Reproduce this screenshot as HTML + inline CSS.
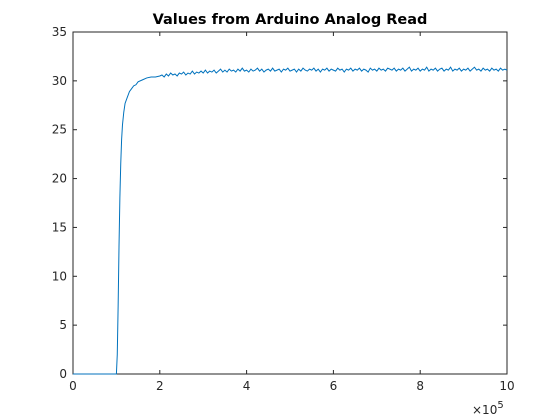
<!DOCTYPE html>
<html><head><meta charset="utf-8"><style>
body{margin:0;background:#fff;}
svg{display:block;font-family:"DejaVu Sans","Liberation Sans",sans-serif;}
</style></head><body>
<svg id="chart" width="560" height="420">
<rect width="560" height="420" fill="#fff"/>
<rect x="73" y="32" width="434" height="342" fill="#fff"/>
<text x="290" y="24" text-anchor="middle" font-weight="bold" font-size="14.5" fill="#000">Values from Arduino Analog Read</text>
<g id="axes"></g>
<rect x="73" y="32" width="434" height="342" fill="none" stroke="#262626" stroke-width="1"/>
<polyline id="series" fill="none" stroke="#0072BD" stroke-width="1"/>
<text x="472" y="414" font-size="12" fill="#262626">×10<tspan dy="-6" font-size="10">5</tspan></text>
</svg>
<script>
const riseX=[0,1.0,1.02,1.04,1.06,1.08,1.1,1.12,1.14,1.17,1.2,1.25,1.3,1.35,1.4,1.45,1.5,1.6,1.7,1.8,1.9,2.0];
const riseY=[0,0,2,7,13,18,21.5,24,25.5,26.8,27.7,28.3,28.9,29.2,29.5,29.6,29.9,30.1,30.3,30.4,30.4,30.5];
const plateauStartX=2.05;
const plateauStepX=0.05;
const plateauY=[30.6,30.4,30.7,30.5,30.8,30.6,30.7,30.5,30.8,30.7,30.9,30.6,30.8,30.7,31.0,30.7,30.9,30.8,31.0,30.8,
31.1,30.8,31.0,30.9,31.1,30.8,31.0,31.2,30.9,31.1,30.9,31.2,31.0,31.1,30.9,31.2,31.0,31.3,31.0,31.1,
30.9,31.2,31.0,31.1,31.3,31.0,31.2,30.9,31.1,31.2,31.0,31.3,31.0,31.1,31.2,30.9,31.2,31.1,31.3,31.0,
31.1,31.2,30.9,31.2,31.0,31.3,31.1,31.0,31.2,31.1,31.3,31.0,31.2,30.9,31.2,31.1,31.3,31.0,31.2,31.1,
31.0,31.3,31.1,31.2,30.9,31.2,31.1,31.3,31.0,31.2,31.1,31.3,31.0,31.2,31.1,30.9,31.3,31.1,31.2,31.0,
31.3,31.1,31.2,31.0,31.3,31.2,31.1,31.3,31.0,31.2,31.1,31.3,31.0,31.2,31.4,31.0,31.2,31.1,31.3,31.0,
31.2,31.1,31.4,31.0,31.2,31.1,31.3,31.0,31.2,31.3,31.0,31.2,31.1,31.4,31.0,31.2,31.1,31.3,31.0,31.2,
31.1,31.3,31.0,31.2,31.4,31.1,31.2,31.0,31.3,31.1,31.2,31.0,31.3,31.1,31.2,31.0,31.3,31.1,31.2,31.1];
const xTicks=[0,2,4,6,8,10];
const yTicks=[0,5,10,15,20,25,30,35];
const X0=73,X1=507,Y0=374,Y1=32,XMAX=10,YMAX=35;
const sx=v=>X0+(v/XMAX)*(X1-X0);
const sy=v=>Y0-(v/YMAX)*(Y0-Y1);
const NS="http://www.w3.org/2000/svg";
const ax=document.getElementById('axes');
function mk(t,a){const e=document.createElementNS(NS,t);for(const k in a)e.setAttribute(k,a[k]);return e;}
xTicks.forEach(t=>{
 const x=sx(t);
 const l1=mk('line',{x1:x,x2:x,y1:Y0,y2:Y0-4,stroke:'#262626'});
 
 
 ax.appendChild(l1);
 const l2=mk('line',{x1:x,x2:x,y1:Y1,y2:Y1+4,stroke:'#262626'});
 
 
 ax.appendChild(l2);
 const tx=mk('text',{x:x,y:Y0+16,'text-anchor':'middle','font-size':12,fill:'#262626'});
 tx.textContent=t;
 
 
 ax.appendChild(tx);
});
yTicks.forEach(t=>{
 const y=sy(t);
 const l1=mk('line',{x1:X0,x2:X0+4,y1:y,y2:y,stroke:'#262626'});
 
 
 ax.appendChild(l1);
 const l2=mk('line',{x1:X1,x2:X1-4,y1:y,y2:y,stroke:'#262626'});
 
 
 ax.appendChild(l2);
 const tx=mk('text',{x:X0-6,y:y+4,'text-anchor':'end','font-size':12,fill:'#262626'});
 tx.textContent=t;
 
 
 ax.appendChild(tx);
});
const pts=[];
riseX.forEach((x,i)=>pts.push(sx(x).toFixed(2)+','+sy(riseY[i]).toFixed(2)));
plateauY.forEach((v,i)=>pts.push(sx(plateauStartX+i*plateauStepX).toFixed(2)+','+sy(v).toFixed(2)));
document.getElementById('series').setAttribute('points',pts.join(' '));
</script>
</body></html>
